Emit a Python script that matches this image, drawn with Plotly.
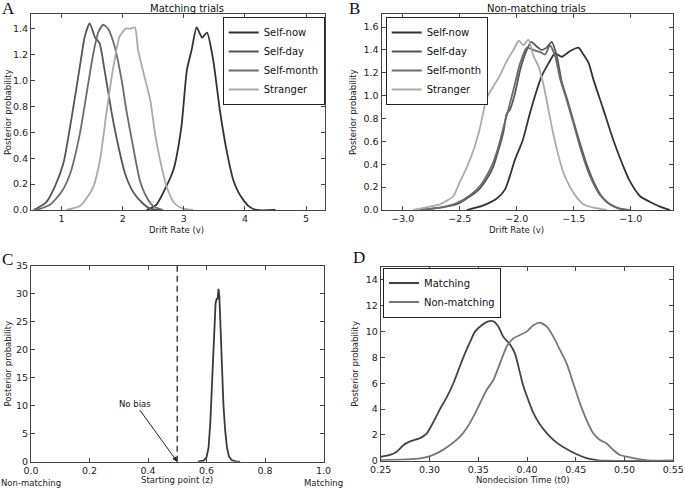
import plotly.graph_objects as go

W, H = 685, 488

def px(x):
    return x / W

def py(y):
    return 1 - y / H

# ---------------- Panel A: Matching trials (drift rate) ----------------
a_now_x = [2.39, 2.55, 2.66, 2.83, 2.96, 3.05, 3.13, 3.21, 3.30, 3.38, 3.48, 3.59, 3.70, 3.81, 3.89, 3.97, 4.06, 4.19, 4.50]
a_now_y = [0.0, 0.04, 0.13, 0.31, 0.64, 1.08, 1.24, 1.41, 1.33, 1.37, 1.16, 0.77, 0.46, 0.23, 0.14, 0.08, 0.03, 0.0, 0.0]
a_day_x = [0.55, 0.75, 0.89, 1.03, 1.16, 1.30, 1.38, 1.46, 1.55, 1.62, 1.71, 1.82, 1.93, 2.04, 2.17, 2.31, 2.45, 2.62]
a_day_y = [0.0, 0.06, 0.18, 0.36, 0.70, 1.11, 1.34, 1.44, 1.33, 1.29, 1.06, 0.75, 0.49, 0.28, 0.14, 0.06, 0.01, 0.0]
a_month_x = [0.59, 0.81, 1.00, 1.14, 1.30, 1.41, 1.52, 1.60, 1.68, 1.76, 1.87, 1.98, 2.06, 2.17, 2.28, 2.39, 2.50, 2.66]
a_month_y = [0.0, 0.04, 0.14, 0.28, 0.59, 0.90, 1.21, 1.37, 1.43, 1.40, 1.26, 1.01, 0.77, 0.49, 0.23, 0.10, 0.03, 0.0]
a_str_x = [1.08, 1.30, 1.41, 1.52, 1.63, 1.74, 1.85, 1.95, 2.05, 2.13, 2.20, 2.25, 2.34, 2.45, 2.53, 2.61, 2.72, 2.85, 2.99, 3.15]
a_str_y = [0.0, 0.03, 0.09, 0.18, 0.39, 0.77, 1.11, 1.34, 1.40, 1.40, 1.41, 1.24, 1.06, 0.85, 0.59, 0.39, 0.18, 0.05, 0.01, 0.0]

# ---------------- Panel B: Non-matching trials (drift rate) ----------------
b_now_x = [-2.439, -2.292, -2.175, -2.102, -2.015, -1.947, -1.883, -1.839, -1.781, -1.722, -1.664, -1.605, -1.532,
           -1.459, -1.415, -1.371, -1.327, -1.240, -1.152, -1.064, -1.006, -0.918, -0.830, -0.743, -0.655]
b_now_y = [0.0, 0.04, 0.10, 0.18, 0.44, 0.61, 0.85, 1.0, 1.17, 1.28, 1.37, 1.34, 1.39,
           1.42, 1.36, 1.29, 1.14, 0.88, 0.61, 0.38, 0.25, 0.12, 0.07, 0.03, 0.0]
b_day_x = [-2.848, -2.673, -2.526, -2.409, -2.322, -2.263, -2.205, -2.161, -2.117, -2.088, -2.058, -2.015, -1.971,
           -1.927, -1.874, -1.825, -1.781, -1.737, -1.693, -1.649, -1.605, -1.561, -1.503, -1.444, -1.386, -1.327,
           -1.269, -1.211, -1.123, -1.035]
b_day_y = [0.0, 0.02, 0.05, 0.12, 0.19, 0.27, 0.38, 0.52, 0.68, 0.84, 0.88, 1.02, 1.22,
           1.36, 1.47, 1.43, 1.40, 1.42, 1.47, 1.35, 1.12, 0.98, 0.78, 0.58, 0.40, 0.25,
           0.14, 0.07, 0.02, 0.0]
b_month_x = [-2.848, -2.673, -2.526, -2.409, -2.322, -2.263, -2.205, -2.161, -2.117, -2.073, -2.029, -1.971, -1.912,
             -1.854, -1.795, -1.751, -1.708, -1.664, -1.620, -1.561, -1.503, -1.444, -1.386, -1.327, -1.269, -1.181,
             -1.094, -1.006]
b_month_y = [0.0, 0.02, 0.06, 0.13, 0.21, 0.30, 0.42, 0.55, 0.72, 0.88, 1.05, 1.28, 1.42,
             1.40, 1.38, 1.36, 1.44, 1.35, 1.15, 0.96, 0.76, 0.55, 0.37, 0.23, 0.13, 0.05,
             0.01, 0.0]
b_str_x = [-2.906, -2.760, -2.673, -2.614, -2.556, -2.497, -2.439, -2.380, -2.322, -2.263, -2.205, -2.146, -2.088,
           -2.029, -1.980, -1.942, -1.898, -1.854, -1.810, -1.766, -1.722, -1.678, -1.635, -1.591, -1.532, -1.474,
           -1.415, -1.327, -1.211]
b_str_y = [0.0, 0.03, 0.05, 0.08, 0.12, 0.25, 0.37, 0.52, 0.72, 0.98, 1.08, 1.18, 1.30,
           1.40, 1.48, 1.44, 1.49, 1.35, 1.26, 1.10, 0.88, 0.66, 0.48, 0.33, 0.20, 0.11,
           0.05, 0.02, 0.0]

# ---------------- Panel C: starting point ----------------
c_x = [0.57, 0.59, 0.60, 0.607, 0.613, 0.619, 0.625, 0.631, 0.635, 0.638, 0.641, 0.644, 0.648,
       0.653, 0.658, 0.664, 0.670, 0.677, 0.686, 0.70, 0.715]
c_y = [0.0, 0.2, 0.8, 2.5, 7.0, 15.0, 23.0, 28.3, 29.2, 29.0, 30.9, 29.5, 24.0,
       16.0, 10.0, 5.5, 2.5, 0.9, 0.3, 0.05, 0.0]
c_nobias = 0.5
c_ticks = [0.0, 0.2, 0.4, 0.6, 0.8, 1.0]
c_tick_nums = ["0.0", "0.2", "0.4", "0.6", "0.8", "1.0"]
c_tick_ends = ["Non-matching", "", "", "", "", "Matching"]

# ---------------- Panel D: nondecision time ----------------
d_match_x = [0.25, 0.2596, 0.2664, 0.2732, 0.2801, 0.2903, 0.2971, 0.3040, 0.3108, 0.3176, 0.3245, 0.3296,
             0.3347, 0.3416, 0.3467, 0.3535, 0.3604, 0.3655, 0.3706, 0.3757, 0.3826, 0.3877, 0.3928, 0.3962,
             0.4013, 0.4065, 0.4133, 0.4218, 0.4304, 0.4406, 0.4509, 0.4611, 0.4714, 0.4782, 0.55]
d_match_y = [0.3, 0.45, 0.7, 1.2, 1.5, 1.75, 2.1, 3.0, 4.0, 4.9, 6.0, 7.0,
             8.0, 9.2, 10.0, 10.5, 10.8, 10.8, 10.4, 9.6, 9.0, 8.3, 6.8, 5.8,
             4.7, 3.7, 2.8, 2.0, 1.4, 0.9, 0.5, 0.2, 0.05, 0.0, 0.0]
d_non_x = [0.25, 0.2766, 0.2903, 0.3006, 0.3108, 0.3211, 0.3313, 0.3381, 0.3450, 0.3518, 0.3586, 0.3655,
           0.3723, 0.3791, 0.3860, 0.3928, 0.3996, 0.4065, 0.4133, 0.4201, 0.4270, 0.4338, 0.4406, 0.4475,
           0.4543, 0.4611, 0.4680, 0.4748, 0.4816, 0.4885, 0.4953, 0.5056, 0.5158, 0.5260, 0.55]
d_non_y = [0.05, 0.10, 0.18, 0.36, 0.70, 1.21, 1.86, 2.51, 3.41, 4.44, 5.48, 6.25,
           7.54, 8.83, 9.48, 9.74, 10.0, 10.5, 10.7, 10.4, 9.61, 8.58, 7.54, 5.99,
           4.44, 3.15, 2.12, 1.60, 1.34, 0.83, 0.44, 0.26, 0.10, 0.0, 0.0]

cond_names = ["Self-now", "Self-day", "Self-month", "Stranger"]
cond_colors = ["#333333", "#565656", "#6c6c6c", "#ababab"]
t0_names = ["Matching", "Non-matching"]
t0_colors = ["#444444", "#777777"]

FONT = "DejaVu Sans"
LW = 1.8

fig = go.Figure()

a_sets = [(a_now_x, a_now_y), (a_day_x, a_day_y), (a_month_x, a_month_y), (a_str_x, a_str_y)]
for (xs, ys), name, col in zip(a_sets, cond_names, cond_colors):
    fig.add_trace(go.Scatter(x=xs, y=ys, mode="lines", name=name,
                             line=dict(color=col, width=LW, shape="spline", smoothing=0.6),
                             xaxis="x", yaxis="y", legend="legend"))

b_sets = [(b_now_x, b_now_y), (b_day_x, b_day_y), (b_month_x, b_month_y), (b_str_x, b_str_y)]
for (xs, ys), name, col in zip(b_sets, cond_names, cond_colors):
    fig.add_trace(go.Scatter(x=xs, y=ys, mode="lines", name=name,
                             line=dict(color=col, width=LW, shape="spline", smoothing=0.6),
                             xaxis="x2", yaxis="y2", legend="legend2"))

fig.add_trace(go.Scatter(x=c_x, y=c_y, mode="lines", showlegend=False,
                         line=dict(color="#3a3a3a", width=LW), xaxis="x3", yaxis="y3"))

d_sets = [(d_match_x, d_match_y), (d_non_x, d_non_y)]
for (xs, ys), name, col in zip(d_sets, t0_names, t0_colors):
    fig.add_trace(go.Scatter(x=xs, y=ys, mode="lines", name=name,
                             line=dict(color=col, width=LW, shape="spline", smoothing=0.6),
                             xaxis="x4", yaxis="y4", legend="legend3"))

tickfont = dict(family=FONT, size=9.5, color="#222222")
titlefont = dict(family=FONT, size=8.5, color="#222222")

def ax(domain, rng, anchor, **kw):
    d = dict(domain=domain, range=rng, anchor=anchor, showgrid=False, zeroline=False,
             showline=True, linecolor="#444444", linewidth=1, mirror="allticks",
             ticks="inside", ticklen=4, tickcolor="#444444", tickfont=tickfont,
             automargin=False)
    d.update(kw)
    return d

c_ticktext = [n if not e else n + "<br><span style='font-size:8.5px'>" + e + "</span>"
              for n, e in zip(c_tick_nums, c_tick_ends)]

xa = [px(31), px(325)]
ya = [py(210), py(14)]
xb = [px(381.5), px(673)]
xc = [px(31), px(323.5)]
yc = [py(461.7), py(266)]
xd = [px(380.7), px(673.3)]
yd = [py(460.7), py(266.7)]

legend_common = dict(xanchor="left", yanchor="top", bordercolor="#222222", borderwidth=1,
                     bgcolor="white", font=dict(family=FONT, size=10, color="#111111"),
                     tracegroupgap=0, itemwidth=30)

fig.update_layout(
    width=W, height=H, margin=dict(l=0, r=0, t=0, b=0, autoexpand=False),
    paper_bgcolor="white", plot_bgcolor="white",
    xaxis=ax(xa, [0.5, 5.31], "y", dtick=1, tick0=1),
    yaxis=ax(ya, [0, 1.513], "x", dtick=0.2, tickformat=".1f"),
    xaxis2=ax(xb, [-3.186, -0.629], "y2", dtick=0.5, tick0=-3.0, tickformat=".1f"),
    yaxis2=ax(ya, [0, 1.714], "x2", dtick=0.2, tickformat=".1f"),
    xaxis3=ax(xc, [0, 1], "y3", tickvals=c_ticks, ticktext=c_ticktext, ticklabeloverflow="allow"),
    yaxis3=ax(yc, [0, 35], "x3", dtick=5),
    xaxis4=ax(xd, [0.25, 0.55], "y4", dtick=0.05, tick0=0.25, tickformat=".2f", ticklabeloverflow="allow"),
    yaxis4=ax(yd, [0, 15.03], "x4", dtick=2),
    legend=dict(x=px(222.7), y=py(17), **legend_common),
    legend2=dict(x=px(385.7), y=py(17), **legend_common),
    legend3=dict(x=px(383), y=py(267.5), **legend_common),
)

# dashed "no bias" reference line in panel C
fig.add_shape(type="line", xref="x3", yref="y3 domain", x0=c_nobias, x1=c_nobias, y0=0, y1=1,
              line=dict(color="#444444", width=1.5, dash="6px,4px"))

def label(text, x, y, font, **kw):
    d = dict(text=text, x=px(x), y=py(y), xref="paper", yref="paper", showarrow=False,
             xanchor="center", yanchor="middle", font=font)
    d.update(kw)
    return d

annotations = [
    label("Matching trials", 186.7, 8, dict(family=FONT, size=10, color="#111111")),
    label("Non-matching trials", 536.7, 8, dict(family=FONT, size=10, color="#111111")),
    dict(text="No bias", x=c_nobias, y=0, xref="x3", yref="y3", ax=0.356, ay=10.4, axref="x3", ayref="y3",
         showarrow=True, arrowhead=2, arrowsize=1, arrowwidth=1, arrowcolor="#222222",
         font=dict(family=FONT, size=8.5, color="#111111")),
]
# axis titles (placed as in the reference)
x_titles = [("Drift Rate (v)", 176.7, 230), ("Drift Rate (v)", 516, 230),
            ("Starting point (z)", 176.7, 479.5), ("Nondecision Time (t0)", 522.5, 480)]
for txt, tx, ty in x_titles:
    annotations.append(label(txt, tx, ty, titlefont))
y_titles = [(8, 112), (353, 112), (7.5, 364), (355, 363.7)]
for tx, ty in y_titles:
    annotations.append(label("Posterior probability", tx, ty, titlefont, textangle=-90))
for letter, (lx, ly) in zip("ABCD", [(8.5, 8.5), (354, 8.5), (7.5, 259), (358.5, 257.5)]):
    annotations.append(label(letter, lx, ly, dict(family="Liberation Serif", size=17, color="#111111")))
fig.update_layout(annotations=annotations)

fig.write_html("out.html", config={"displayModeBar": False},
               post_script="document.body.style.margin='0px';")
